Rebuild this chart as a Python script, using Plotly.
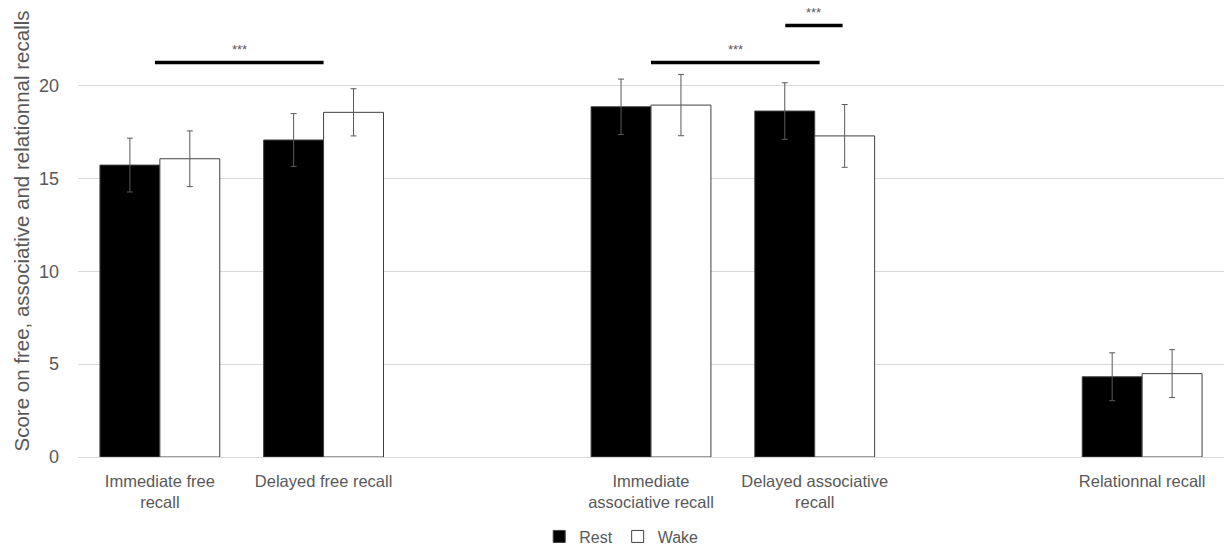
import plotly.graph_objects as go

categories = ["Immediate free<br>recall", "Delayed free recall",
              "Immediate<br>associative recall", "Delayed associative<br>recall",
              "Relationnal recall"]
slots = [0, 1, 3, 4, 6]
rest = [15.72, 17.07, 18.86, 18.63, 4.32]
rest_err = [1.45, 1.42, 1.49, 1.52, 1.29]
wake = [16.06, 18.56, 18.95, 17.29, 4.49]
wake_err = [1.5, 1.27, 1.65, 1.69, 1.29]

# significance bars: (x0, x1, y, label)
sig_x0 = [-0.03, 3.0, 3.82]
sig_x1 = [1.0, 4.03, 4.17]
sig_y = [21.25, 21.25, 23.24]
sig_label = ["***", "***", "***"]

font = "Liberation Sans"
grey = "#595959"

fig = go.Figure()
fig.add_trace(go.Bar(
    x=slots, y=rest, name="Rest",
    marker=dict(color="black", line=dict(color="#404040", width=1)),
    error_y=dict(type="data", array=rest_err, color=grey, thickness=1, width=3),
))
fig.add_trace(go.Bar(
    x=slots, y=wake, name="Wake",
    marker=dict(color="white", line=dict(color="#404040", width=1)),
    error_y=dict(type="data", array=wake_err, color=grey, thickness=1, width=3),
))

for x0, x1, y, lab in zip(sig_x0, sig_x1, sig_y, sig_label):
    fig.add_shape(type="line", xref="x", yref="y", x0=x0, x1=x1, y0=y, y1=y,
                  line=dict(color="black", width=3.5))
    fig.add_annotation(x=(x0 + x1) / 2, y=y, yshift=13, text=lab, showarrow=False,
                       font=dict(family=font, size=13, color=grey))

fig.update_layout(
    width=1224, height=546,
    margin=dict(l=78, r=0, t=5, b=89, autoexpand=False),
    paper_bgcolor="white", plot_bgcolor="white",
    barmode="group", bargap=0.268, bargroupgap=0,
    font=dict(family=font, color=grey),
    showlegend=True,
    legend=dict(orientation="h", x=0.474, xanchor="center", y=-0.176, yanchor="middle",
                font=dict(family=font, size=16, color=grey), itemwidth=30,
                traceorder="normal"),
    xaxis=dict(range=[-0.5, 6.5], tickvals=slots, ticktext=categories,
               showgrid=False, showline=True, linecolor="#d9d9d9", linewidth=1,
               ticks="", tickfont=dict(family=font, size=16.5, color=grey),
               ticklabelstandoff=9, zeroline=False, automargin=False),
    yaxis=dict(range=[0, 24.34], tickvals=[0, 5, 10, 15, 20],
               showgrid=True, gridcolor="#d9d9d9", gridwidth=1,
               showline=False, zeroline=False, ticks="",
               tickfont=dict(family=font, size=18, color=grey),
               ticklabelstandoff=18, automargin=False,
               title=dict(text="Score on free, associative and relationnal recalls",
                          font=dict(family=font, size=20.5, color=grey), standoff=3)),
)

fig.write_html("out.html", config={"displayModeBar": False},
               post_script="document.body.style.margin='0';document.body.style.overflow='hidden';")
